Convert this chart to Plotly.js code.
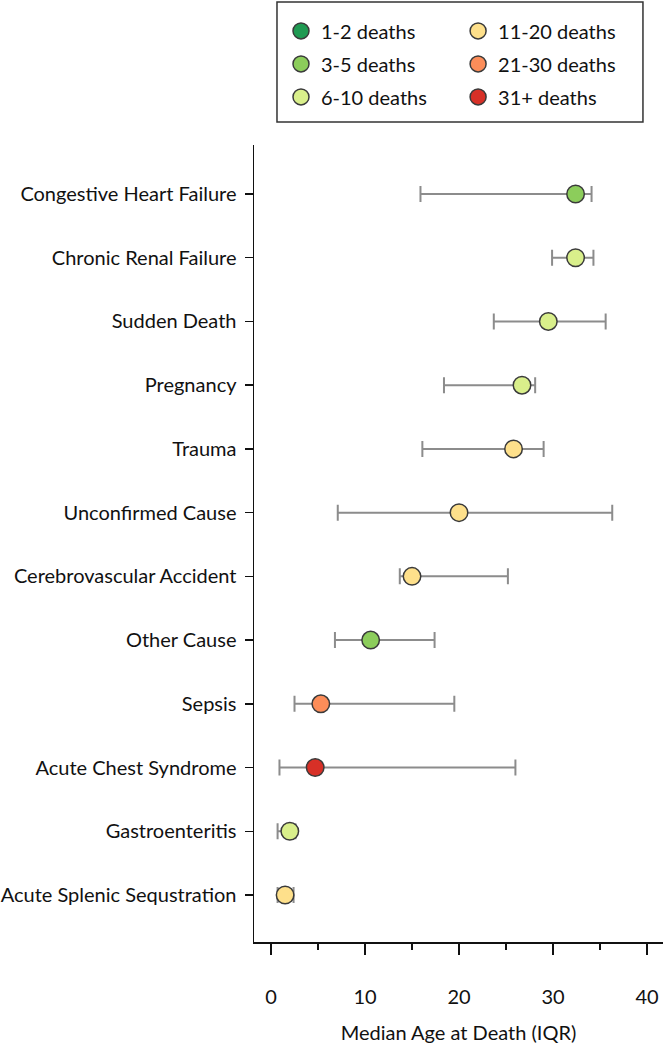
<!DOCTYPE html>
<html>
<head>
<meta charset="utf-8">
<script src="https://cdn.plot.ly/plotly-3.0.1.min.js"></script>
<style>html,body{margin:0;padding:0;background:#fff;}#chart{width:664px;height:1050px;}</style>
</head>
<body>
<div id="chart"></div>
<script>
var causes = ['Congestive Heart Failure','Chronic Renal Failure','Sudden Death','Pregnancy','Trauma','Unconfirmed Cause','Cerebrovascular Accident','Other Cause','Sepsis','Acute Chest Syndrome','Gastroenteritis','Acute Splenic Sequstration'];
var medianAge = [32.4, 32.4, 29.5, 26.7, 25.8, 20.0, 15.0, 10.6, 5.3, 4.7, 2.0, 1.5];
var iqrLow    = [15.9, 29.9, 23.7, 18.4, 16.1, 7.1, 13.7, 6.8, 2.5, 0.9, 0.7, 0.7];
var iqrHigh   = [34.1, 34.3, 35.6, 28.1, 29.0, 36.3, 25.2, 17.4, 19.5, 26.0, 2.6, 2.4];
var deathGroup = ['3-5 deaths','6-10 deaths','6-10 deaths','6-10 deaths','11-20 deaths','11-20 deaths','11-20 deaths','3-5 deaths','21-30 deaths','31+ deaths','6-10 deaths','11-20 deaths'];
var groups = ['1-2 deaths','3-5 deaths','6-10 deaths','11-20 deaths','21-30 deaths','31+ deaths'];
var groupColors = ['#1f9a52','#8ccd5b','#d9ef8b','#fee08b','#fc8d59','#d73027'];
var xTicks = [0, 10, 20, 30, 40];

var FONT = 'Lato, "Open Sans", sans-serif';
var FS = 20;
var traces = groups.map(function (g, gi) {
  var x = [], y = [], plus = [], minus = [];
  for (var i = 0; i < causes.length; i++) {
    if (deathGroup[i] === g) {
      x.push(medianAge[i]); y.push(causes[i]);
      plus.push(iqrHigh[i] - medianAge[i]);
      minus.push(medianAge[i] - iqrLow[i]);
    }
  }
  // a group with no causes still gets its legend entry (nothing is plotted)
  if (!x.length) { x = [null]; y = [null]; plus = [null]; minus = [null]; }
  return {
    type: 'scatter', mode: 'markers', name: g, x: x, y: y,
    legend: gi < 3 ? 'legend' : 'legend2',
    legendgroup: 'g' + gi,
    marker: {size: 17.5, color: groupColors[gi], line: {color: '#3a3a3a', width: 1.5}},
    error_x: {type: 'data', symmetric: false, array: plus, arrayminus: minus,
              color: '#8c8c8c', thickness: 2, width: 8},
    hoverinfo: 'x+y'
  };
});

var legendCommon = {
  orientation: 'v', xanchor: 'left', yanchor: 'top',
  bgcolor: 'rgba(0,0,0,0)', borderwidth: 0, tracegroupgap: 4,
  font: {family: FONT, size: FS, color: '#111'}
};

var layout = {
  width: 664, height: 1050,
  margin: {l: 254, r: 1, t: 145, b: 108},
  paper_bgcolor: '#fff', plot_bgcolor: '#fff',
  font: {family: FONT, size: FS, color: '#111'},
  showlegend: true,
  legend: Object.assign({}, legendCommon, {x: 0.066, y: 1.1676}),
  legend2: Object.assign({}, legendCommon, {x: 0.499, y: 1.1676}),
  shapes: [{type: 'rect', xref: 'paper', yref: 'paper', x0: 0.0562, x1: 0.951, y0: 1.0289, y1: 1.1794,
            line: {color: '#333', width: 1.5}, fillcolor: 'rgba(0,0,0,0)'}],
  xaxis: {
    range: [-1.81, 41.7], tickvals: xTicks, ticktext: xTicks.map(String),
    showgrid: false, zeroline: false, showline: true, linecolor: '#111', linewidth: 1.5,
    ticks: 'outside', ticklen: 11, tickwidth: 1.5, tickcolor: '#111',
    minor: {dtick: 5, tick0: 5, ticks: 'outside', ticklen: 6, tickwidth: 1.5, tickcolor: '#111', showgrid: false},
    ticklabelstandoff: 25,
    tickfont: {family: FONT, size: FS, color: '#111'},
    title: {text: 'Median Age at Death (IQR)', standoff: 19, font: {family: FONT, size: FS, color: '#111'}}
  },
  yaxis: {
    type: 'category', categoryorder: 'array', categoryarray: causes,
    range: [11.738, -0.769],
    showgrid: false, zeroline: false, showline: true, linecolor: '#111', linewidth: 1.5,
    ticks: 'outside', ticklen: 8, tickwidth: 1.5, tickcolor: '#111',
    ticklabelstandoff: 4,
    tickfont: {family: FONT, size: FS, color: '#111'}
  }
};

Plotly.newPlot('chart', traces, layout, {displayModeBar: false, staticPlot: true});
</script>
</body>
</html>
